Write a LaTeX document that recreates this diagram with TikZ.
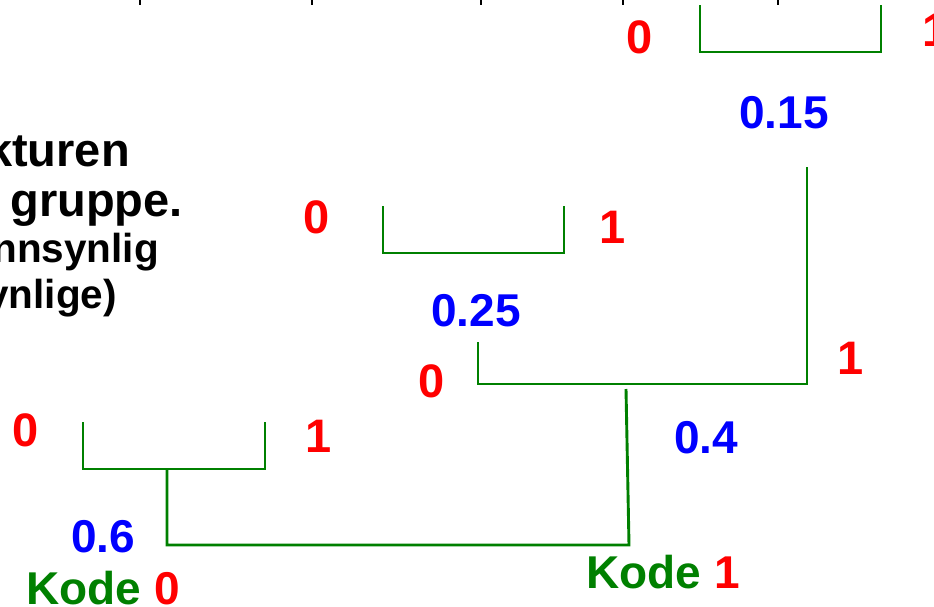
\documentclass[tikz,border=0pt]{standalone}
\usepackage{fontspec}
\setmainfont{Liberation Sans}
\begin{document}
\begin{tikzpicture}[x=1pt,y=-1pt,
  br/.style={draw=kgreen,line width=2.9pt,line cap=butt},
  red/.style={text=kred,font=\bfseries\fontsize{47}{50}\selectfont,inner sep=0pt},
  prob/.style={text=kblue,font=\bfseries\fontsize{46}{50}\selectfont,inner sep=0pt},
  kode/.style={text=kgreen,font=\bfseries\fontsize{46}{50}\selectfont,inner sep=0pt},
  bigtxt/.style={font=\bfseries\fontsize{47}{50}\selectfont,inner sep=0pt,anchor=base east},
  smalltxt/.style={font=\bfseries\fontsize{40.5}{44}\selectfont,inner sep=0pt,anchor=base east},
  tick/.style={draw=black,line width=1.6pt}]
\definecolor{kgreen}{RGB}{0,128,0}
\definecolor{kred}{RGB}{255,0,0}
\definecolor{kblue}{RGB}{0,0,255}
\useasboundingbox (0,0) rectangle (934,606);
\clip (0,0) rectangle (934,606);
% ticks at top
\foreach \t in {140,312,481,623,778}{\draw[tick] (\t,0) -- (\t,5);}
% black text fragments
\node[bigtxt] (t1) at (130,166) {kturen};
\node[bigtxt] (t2) at (183,216) {gruppe.};
\node[smalltxt] (t3) at (159,262) {nnsynlig};
\node[smalltxt] (t4) at (117,308) {ynlige)};
% coordinates
\coordinate (a1) at (700,5); \coordinate (a2) at (700,52);
\coordinate (a3) at (881,52); \coordinate (a4) at (881,5);
\coordinate (b1) at (383,206); \coordinate (b2) at (383,253);
\coordinate (b3) at (564,253); \coordinate (b4) at (564,206);
\coordinate (c1) at (478,342); \coordinate (c2) at (478,384);
\coordinate (c3) at (807,384); \coordinate (c4) at (807,167);
\coordinate (d1) at (626,389); \coordinate (d2) at (629,545);
\coordinate (d3) at (167,545); \coordinate (d4) at (167,469);
\coordinate (e1) at (83,422); \coordinate (e2) at (83,469);
\coordinate (e3) at (265,469); \coordinate (e4) at (265,422);
% green brackets
\draw[br] (a1) -- (a2) -- (a3) -- (a4);
\draw[br] (b1) -- (b2) -- (b3) -- (b4);
\draw[br] (c1) -- (c2) -- (c3) -- (c4);
\draw[br] (d1) -- (d2) -- (d3) -- (d4);
\draw[br] (e1) -- (e2) -- (e3) -- (e4);
% labels
\node[red] (r1) at (640,37) {0};
\node[red,anchor=west] (r2) at (922,30) {1};
\node[prob] (p1) at (784,113) {0.15};
\node[red] (r3) at (317,217) {0};
\node[red] (r4) at (613,227) {1};
\node[prob] (p2) at (476,311) {0.25};
\node[red] (r5) at (851,358) {1};
\node[red] (r6) at (432,381) {0};
\node[prob] (p3) at (706,438) {0.4};
\node[red] (r7) at (26,430) {0};
\node[red] (r8) at (319,436) {1};
\node[prob] (p4) at (103,537) {0.6};
\node[kode] (k0) at (103,588) {Kode \textcolor{kred}{0}};
\node[kode] (k1) at (663,572) {Kode \textcolor{kred}{1}};
\end{tikzpicture}
\end{document}
